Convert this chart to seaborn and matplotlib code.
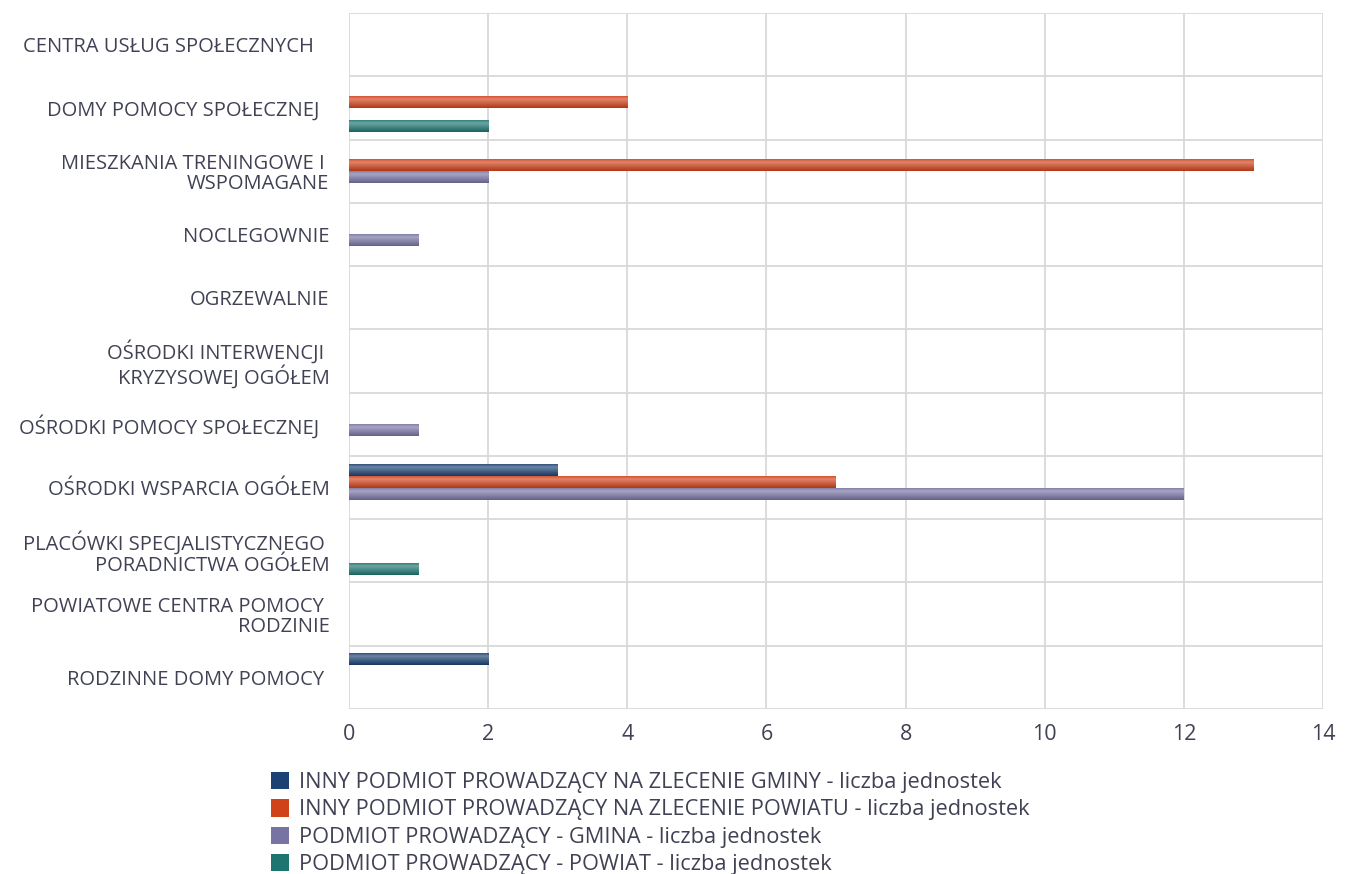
import matplotlib.pyplot as plt
import numpy as np
import pandas as pd
import seaborn as sns
from matplotlib.colors import to_rgb
from matplotlib.patches import Patch

# categories (y axis), top to bottom
categories = [
    "CENTRA USŁUG SPOŁECZNYCH   ",
    "DOMY POMOCY SPOŁECZNEJ  ",
    "MIESZKANIA TRENINGOWE I \nWSPOMAGANE",
    "NOCLEGOWNIE",
    "OGRZEWALNIE",
    "OŚRODKI INTERWENCJI \nKRYZYSOWEJ OGÓŁEM",
    "OŚRODKI POMOCY SPOŁECZNEJ  ",
    "OŚRODKI WSPARCIA OGÓŁEM",
    "PLACÓWKI SPECJALISTYCZNEGO \nPORADNICTWA OGÓŁEM",
    "POWIATOWE CENTRA POMOCY \nRODZINIE",
    "RODZINNE DOMY POMOCY ",
]

series_names = [
    "INNY PODMIOT PROWADZĄCY NA ZLECENIE GMINY - liczba jednostek",
    "INNY PODMIOT PROWADZĄCY NA ZLECENIE POWIATU - liczba jednostek",
    "PODMIOT PROWADZĄCY - GMINA - liczba jednostek",
    "PODMIOT PROWADZĄCY - POWIAT - liczba jednostek",
]

inny_gmina = [0, 0, 0, 0, 0, 0, 0, 3, 0, 0, 2]
inny_powiat = [0, 4, 13, 0, 0, 0, 0, 7, 0, 0, 0]
gmina = [0, 0, 2, 1, 0, 0, 1, 12, 0, 0, 0]
powiat = [0, 2, 0, 0, 0, 0, 0, 0, 1, 0, 0]

x_ticks = [0, 2, 4, 6, 8, 10, 12, 14]

colors = ["#1b4273", "#d0421a", "#7773a3", "#1d7571"]
text_color = "#404254"

rows = []
for name, vals in zip(series_names, [inny_gmina, inny_powiat, gmina, powiat]):
    for cat, v in zip(categories, vals):
        rows.append({"kategoria": cat, "seria": name, "wartosc": v})
df = pd.DataFrame(rows)

sns.set_theme(style="white")
plt.rcParams["font.family"] = ["Open Sans", "DejaVu Sans"]

fig = plt.figure(figsize=(13.52, 8.74), dpi=100)
ax = fig.add_axes([349 / 1352, 1 - 709 / 874, (1323 - 349) / 1352, (709 - 13) / 874])

sns.barplot(
    data=df,
    y="kategoria",
    x="wartosc",
    hue="seria",
    order=categories,
    hue_order=series_names,
    palette=colors,
    orient="h",
    width=0.76,
    gap=0,
    ax=ax,
    legend=False,
    saturation=1,
    linewidth=0,
)


def shade(base):
    # vertical profile of a bar: lighter stripe near the top, darker bottom
    base = np.array(base)
    light = base + (1 - base) * 0.35
    dark = base * 0.85
    grad = np.empty((40, 1, 3))
    for i, s in enumerate(np.linspace(0, 1, 40)):
        if s < 0.3:
            grad[i, 0] = base + (light - base) * (s / 0.3)
        else:
            grad[i, 0] = light + (dark - light) * ((s - 0.3) / 0.7)
    return grad


# cylinder-like shading on each bar
for patch in list(ax.patches):
    w = patch.get_width()
    if w <= 0:
        continue
    x0, y0 = patch.get_x(), patch.get_y()
    h = patch.get_height()
    im = ax.imshow(shade(to_rgb(patch.get_facecolor())),
                   extent=(x0, x0 + w, y0 + h, y0), origin="upper",
                   aspect="auto", interpolation="bilinear", zorder=3)
    im.set_clip_path(patch)

ax.set_xlim(0, 14)
ax.set_ylim(len(categories) - 0.5, -0.5)
ax.set_xticks(x_ticks)
ax.set_xticklabels([str(v) for v in x_ticks])
ax.set_yticks(range(len(categories)))
ax.set_yticklabels(categories, ha="right", multialignment="right", linespacing=1.05)
ax.set_yticks(np.arange(-0.5, len(categories), 1), minor=True)

ax.grid(axis="x", which="major", color="#d9d9d9", linewidth=1.3)
ax.grid(axis="y", which="minor", color="#d9d9d9", linewidth=1.3)
ax.grid(axis="y", which="major", visible=False)
ax.set_axisbelow(True)
for sp in ax.spines.values():
    sp.set_visible(False)

ax.tick_params(axis="x", which="both", length=0, labelsize=15.5, labelcolor=text_color, pad=11)
ax.tick_params(axis="y", which="both", length=0, labelsize=14.5, labelcolor=text_color, pad=14)
ax.set_xlabel("")
ax.set_ylabel("")

handles = [Patch(facecolor=c, edgecolor="none") for c in colors]
fig.legend(
    handles,
    series_names,
    loc="upper left",
    bbox_to_anchor=(260 / 1352, 1 - 761 / 874),
    frameon=False,
    fontsize=15.7,
    labelcolor=text_color,
    handlelength=0.85,
    handleheight=0.85,
    handletextpad=0.45,
    labelspacing=0.28,
    borderpad=0,
)

fig.savefig("out.png", dpi=100)
